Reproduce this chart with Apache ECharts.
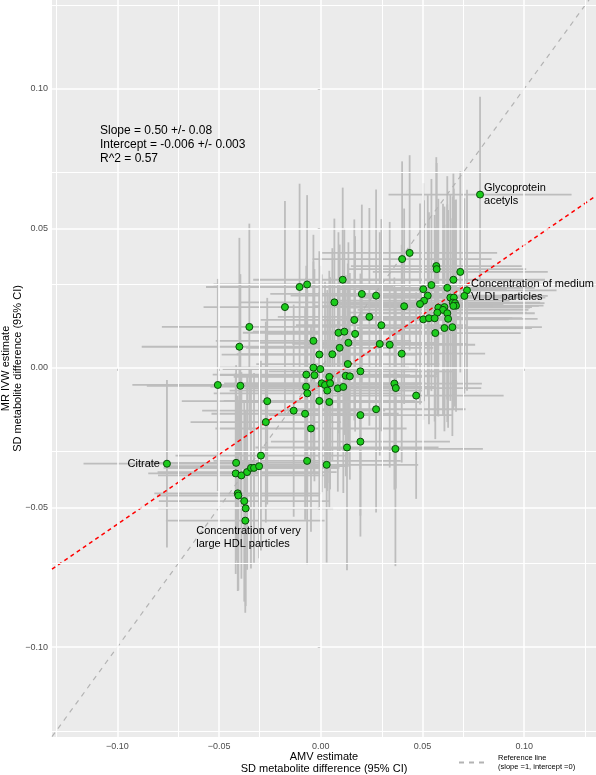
<!DOCTYPE html>
<html><head><meta charset="utf-8">
<script src="https://cdn.jsdelivr.net/npm/echarts@6/dist/echarts.min.js"></script>
<style>html,body{margin:0;padding:0;background:#fff}#c{width:596px;height:775px}</style>
</head><body><div id="c"></div>
<script>
// AMV estimate (x) and MR IVW estimate (y), with 95% CI half-widths
const amvEst = [
 0.0783, 0.0437, 0.0400, 0.0568, 0.0570, 0.0686, 0.0652, 0.0544, -0.0067, -0.0104,
 0.0108, 0.0504, 0.0622, 0.0719, 0.0202, 0.0272, 0.0526, 0.0706, 0.0637, 0.0654,
 0.0508, 0.0649, 0.0660, 0.0067, 0.0488, 0.0665, 0.0652, 0.0410, 0.0578, 0.0608,
 0.0601, 0.0573, 0.0622, 0.0239, 0.0504, 0.0532, 0.0560, 0.0626, 0.0165, 0.0298,
 0.0608, 0.0647, 0.0563, 0.0087, 0.0116, 0.0169, -0.0036, 0.0136, 0.0093, 0.0339,
 0.0290, 0.0057, -0.0007, 0.0398, 0.0133, -0.0036, -0.0002, -0.0071, -0.0031, 0.0123,
 0.0143, 0.0195, 0.0042, 0.0005, 0.0021, 0.0046, 0.0032, 0.0084, 0.0111, -0.0072,
 -0.0066, 0.0362, 0.0369, 0.0469, -0.0007, 0.0042, 0.0272, 0.0195, -0.0077, -0.0048,
 0.0195, 0.0129, 0.0367, -0.0067, 0.0029, -0.0176, -0.0351, -0.0400, -0.0506, -0.0395,
 -0.0263, -0.0133, -0.0270, -0.0756, -0.0416, -0.0294, -0.0418, -0.0390, -0.0362, -0.0343,
 -0.0328, -0.0303, -0.0408, -0.0405, -0.0376, -0.0369, -0.0371];
const amvCI = [
 0.045, 0.043, 0.044, 0.042, 0.044, 0.043, 0.045, 0.042, 0.046, 0.046,
 0.044, 0.041, 0.043, 0.044, 0.045, 0.042, 0.043, 0.041, 0.044, 0.045,
 0.042, 0.043, 0.044, 0.046, 0.041, 0.043, 0.042, 0.044, 0.045, 0.043,
 0.042, 0.044, 0.043, 0.045, 0.042, 0.041, 0.043, 0.044, 0.046, 0.042,
 0.043, 0.044, 0.042, 0.047, 0.045, 0.043, 0.048, 0.044, 0.046, 0.042,
 0.043, 0.047, 0.048, 0.041, 0.045, 0.047, 0.048, 0.046, 0.047, 0.044,
 0.043, 0.045, 0.047, 0.048, 0.046, 0.047, 0.048, 0.046, 0.045, 0.047,
 0.046, 0.043, 0.042, 0.043, 0.047, 0.046, 0.044, 0.045, 0.046, 0.047,
 0.044, 0.045, 0.043, 0.046, 0.045, 0.040, 0.043, 0.048, 0.042, 0.046,
 0.042, 0.045, 0.037, 0.041, 0.044, 0.042, 0.043, 0.041, 0.044, 0.043,
 0.042, 0.044, 0.041, 0.040, 0.042, 0.043, 0.039];
const mrEst = [
 0.0621, 0.0412, 0.0390, 0.0365, 0.0354, 0.0344, 0.0316, 0.0297, 0.0299, 0.0290,
 0.0316, 0.0282, 0.0287, 0.0278, 0.0265, 0.0259, 0.0259, 0.0258, 0.0252, 0.0252,
 0.0241, 0.0234, 0.0232, 0.0235, 0.0229, 0.0223, 0.0222, 0.0221, 0.0216, 0.0218,
 0.0208, 0.0198, 0.0196, 0.0183, 0.0174, 0.0178, 0.0178, 0.0176, 0.0172, 0.0153,
 0.0143, 0.0146, 0.0125, 0.0126, 0.0130, 0.0122, 0.0097, 0.0090, 0.0072, 0.0083,
 0.0086, 0.0049, 0.0048, 0.0051, 0.0014, 0.0001, -0.0004, -0.0024, -0.0026, -0.0028,
 -0.0030, -0.0012, -0.0032, -0.0055, -0.0061, -0.0055, -0.0081, -0.0073, -0.0068, -0.0067,
 -0.0091, -0.0056, -0.0072, -0.0099, -0.0118, -0.0122, -0.0148, -0.0169, -0.0164, -0.0217,
 -0.0264, -0.0285, -0.0290, -0.0333, -0.0347, 0.0218, 0.0147, 0.0076, -0.0061, -0.0064,
 -0.0119, -0.0153, -0.0194, -0.0343, -0.0340, -0.0314, -0.0378, -0.0385, -0.0373, -0.0358,
 -0.0358, -0.0352, -0.0449, -0.0457, -0.0477, -0.0503, -0.0547];
const mrCI = [
 0.035, 0.035, 0.035, 0.039, 0.038, 0.036, 0.038, 0.038, 0.032, 0.037,
 0.033, 0.038, 0.040, 0.036, 0.032, 0.038, 0.036, 0.035, 0.037, 0.039,
 0.036, 0.038, 0.037, 0.030, 0.036, 0.038, 0.037, 0.035, 0.039, 0.036,
 0.038, 0.037, 0.039, 0.039, 0.036, 0.038, 0.037, 0.039, 0.036, 0.038,
 0.037, 0.039, 0.038, 0.036, 0.037, 0.035, 0.038, 0.036, 0.037, 0.044,
 0.040, 0.038, 0.037, 0.039, 0.036, 0.038, 0.037, 0.039, 0.038, 0.036,
 0.037, 0.035, 0.038, 0.039, 0.037, 0.038, 0.036, 0.037, 0.038, 0.039,
 0.037, 0.038, 0.036, 0.037, 0.039, 0.038, 0.037, 0.036, 0.038, 0.037,
 0.034, 0.044, 0.042, 0.037, 0.035, 0.038, 0.037, 0.039, 0.038, 0.040,
 0.037, 0.038, 0.036, 0.030, 0.035, 0.034, 0.036, 0.037, 0.035, 0.036,
 0.034, 0.033, 0.035, 0.034, 0.036, 0.035, 0.033];

const labelIdx = [0, 13, 93, 106];
const labelText = ['Glycoprotein\nacetyls', 'Concentration of medium\nVLDL particles', 'Citrate', 'Concentration of very\nlarge HDL particles'];

const xTicks = [-0.10, -0.05, 0.00, 0.05, 0.10];
const yTicks = [-0.10, -0.05, 0.00, 0.05, 0.10];
const xMinorGrid = [-0.125, -0.075, -0.025, 0.025, 0.075, 0.125];
const yMinorGrid = [-0.125, -0.075, -0.025, 0.025, 0.075, 0.125];
const xRange = [-0.1321, 0.1353];
const yRange = [-0.1322, 0.1318];
const fitSlope = 0.50;
const fitIntercept = -0.006;
const statsLines = ['Slope = 0.50 +/- 0.08', 'Intercept = -0.006 +/- 0.003', 'R^2 = 0.57'];
const refName = 'Reference line\n(slope =1, intercept =0)';

const FONT = '"Liberation Sans", Arial, sans-serif';
const fmt = v => (v < 0 ? '\u2212' : '') + Math.abs(v).toFixed(2);

const labelStyles = [
  {position: 'right', distance: 0},
  {position: 'right', distance: 0},
  {position: 'left', distance: 3},
  {position: 'inside', align: 'left', verticalAlign: 'middle', offset: [-49, 16.5]}
];

const errData = amvEst.map((x, i) => [x, mrEst[i], x - amvCI[i], x + amvCI[i], mrEst[i] - mrCI[i], mrEst[i] + mrCI[i]]);
const ptData = amvEst.map((x, i) => {
  const item = {value: [x, mrEst[i]]};
  const k = labelIdx.indexOf(i);
  if (k >= 0) {
    item.label = Object.assign({show: true, formatter: labelText[k], color: '#000', fontSize: 11, lineHeight: 13, fontFamily: FONT}, labelStyles[k]);
  }
  return item;
});

const gridLine = (key, v, w) => ({[key]: v, lineStyle: {color: '#ffffff', width: w, type: 'solid'}});
const gridMarks = []
  .concat(xMinorGrid.map(v => gridLine('xAxis', v, 1.0)))
  .concat(yMinorGrid.map(v => gridLine('yAxis', v, 1.0)))
  .concat(xTicks.map(v => gridLine('xAxis', v, 1.5)))
  .concat(yTicks.map(v => gridLine('yAxis', v, 1.5)));

const chart = echarts.init(document.getElementById('c'), null, {renderer: 'canvas'});
chart.setOption({
  animation: false,
  backgroundColor: '#ffffff',
  textStyle: {fontFamily: FONT},
  grid: {left: 52, right: 0, top: 0, bottom: 38, show: true, backgroundColor: '#ebebeb', borderWidth: 0,
         containLabel: false, outerBoundsMode: 'none'},
  xAxis: {
    type: 'value', min: xRange[0], max: xRange[1],
    axisLine: {show: false},
    splitLine: {show: false},
    axisTick: {show: true, length: 3, lineStyle: {color: '#333333', width: 1}, customValues: xTicks},
    axisLabel: {customValues: xTicks, formatter: fmt, color: '#4d4d4d', fontSize: 9, margin: 5, fontFamily: FONT},
    name: 'AMV estimate\nSD metabolite difference (95% CI)',
    nameLocation: 'middle', nameGap: 14, nameMoveOverlap: false,
    nameTextStyle: {color: '#000', fontSize: 11, lineHeight: 12, fontFamily: FONT}
  },
  yAxis: {
    type: 'value', min: yRange[0], max: yRange[1],
    axisLine: {show: false},
    splitLine: {show: false},
    axisTick: {show: true, length: 3, lineStyle: {color: '#333333', width: 1}, customValues: yTicks},
    axisLabel: {customValues: yTicks, formatter: fmt, color: '#4d4d4d', fontSize: 9, margin: 4, fontFamily: FONT},
    name: 'MR IVW estimate\nSD metabolite difference (95% CI)',
    nameLocation: 'middle', nameRotate: 90, nameGap: 28, nameMoveOverlap: false,
    nameTextStyle: {color: '#000', fontSize: 11, lineHeight: 12, fontFamily: FONT}
  },
  legend: {
    data: [refName], left: 453, top: 748, itemWidth: 28, itemHeight: 10,
    itemStyle: {opacity: 0},
    textStyle: {fontSize: 7.5, lineHeight: 9.5, color: '#000', fontFamily: FONT, padding: [0, 0, 0, 6]},
    selectedMode: false
  },
  graphic: [{
    type: 'text', left: 100, top: 124, silent: true, z: 100,
    style: {text: statsLines.join('\n'), font: '12px ' + FONT, lineHeight: 14, fill: '#000'}
  }],
  series: [
    {
      name: 'grid', type: 'line', data: [], z: 0, silent: true,
      markLine: {silent: true, symbol: ['none', 'none'], label: {show: false}, animation: false, data: gridMarks}
    },
    {
      name: 'CI', type: 'custom', z: 2, silent: true, clip: true,
      data: errData,
      encode: {x: [0, 2, 3], y: [1, 4, 5]},
      renderItem: function (params, api) {
        const x = api.value(0), y = api.value(1);
        const a = api.coord([api.value(2), y]), b = api.coord([api.value(3), y]);
        const c = api.coord([x, api.value(4)]), d = api.coord([x, api.value(5)]);
        const st = {stroke: '#bdbdbd', lineWidth: 1.8};
        return {type: 'group', children: [
          {type: 'line', shape: {x1: a[0], y1: a[1], x2: b[0], y2: b[1]}, style: st},
          {type: 'line', shape: {x1: c[0], y1: c[1], x2: d[0], y2: d[1]}, style: st}
        ]};
      }
    },
    {
      name: refName, type: 'line', z: 3, silent: true, symbol: 'none',
      data: [[xRange[0], xRange[0]], [xRange[1], xRange[1]]],
      lineStyle: {color: '#b3b3b3', width: 1.2, type: [5, 5]},
      itemStyle: {color: '#b3b3b3'}
    },
    {
      name: 'fit', type: 'line', z: 4, silent: true, symbol: 'none',
      data: [[xRange[0], fitSlope * xRange[0] + fitIntercept], [xRange[1], fitSlope * xRange[1] + fitIntercept]],
      lineStyle: {color: '#ff0000', width: 1.5, type: [4, 3.5]}
    },
    {
      name: 'points', type: 'scatter', z: 5, silent: true,
      symbol: 'circle', symbolSize: 7,
      itemStyle: {color: '#1ccc1c', borderColor: '#0b4a0b', borderWidth: 1, opacity: 1},
      label: {show: false},
      data: ptData
    }
  ]
});
</script>
</body></html>
